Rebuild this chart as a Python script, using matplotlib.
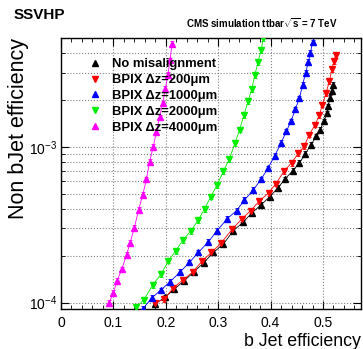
import numpy as np
import matplotlib
matplotlib.use("Agg")
import matplotlib.pyplot as plt
from matplotlib.ticker import LogLocator, MultipleLocator, NullFormatter
from matplotlib.lines import Line2D

plt.rcParams['font.family'] = ['Liberation Sans', 'DejaVu Sans']
plt.rcParams['mathtext.fontset'] = 'custom'
plt.rcParams['mathtext.rm'] = 'Liberation Sans'
plt.rcParams['mathtext.bf'] = 'Liberation Sans:bold'

# b-jet efficiency vs non-b mistag rate
eff_nomis = [0.18, 0.198, 0.216, 0.235, 0.254, 0.272, 0.291, 0.31, 0.329, 0.347, 0.364, 0.382, 0.398, 0.414,
             0.427, 0.442, 0.455, 0.466, 0.477, 0.487, 0.494, 0.502, 0.507, 0.51, 0.513, 0.517, 0.52]
mis_nomis = [9.8e-5, 1.08e-4, 1.22e-4, 1.38e-4, 1.58e-4, 1.8e-4, 2.1e-4, 2.38e-4, 2.9e-4, 3.27e-4, 3.76e-4,
             4.25e-4, 4.77e-4, 5.45e-4, 6.2e-4, 7e-4, 7.9e-4, 9e-4, 1.03e-3, 1.17e-3, 1.29e-3, 1.46e-3,
             1.64e-3, 1.82e-3, 2.07e-3, 2.28e-3, 2.5e-3]

eff_200 = [0.179, 0.197, 0.214, 0.233, 0.252, 0.27, 0.287, 0.305, 0.327, 0.345, 0.362, 0.378, 0.396, 0.41,
           0.426, 0.44, 0.453, 0.464, 0.474, 0.485, 0.493, 0.499, 0.506, 0.512, 0.517, 0.521, 0.524]
mis_200 = [1.0e-4, 1.05e-4, 1.24e-4, 1.4e-4, 1.58e-4, 1.86e-4, 2.1e-4, 2.4e-4, 2.97e-4, 3.44e-4, 3.9e-4,
           4.47e-4, 5.06e-4, 5.8e-4, 7e-4, 7.9e-4, 9.1e-4, 1.01e-3, 1.2e-3, 1.39e-3, 1.6e-3, 1.87e-3,
           2.22e-3, 2.64e-3, 3.14e-3, 3.56e-3, 3.9e-3]

eff_1000 = [0.156, 0.173, 0.19, 0.208, 0.227, 0.245, 0.262, 0.281, 0.298, 0.317, 0.335, 0.35, 0.367, 0.382,
            0.395, 0.408, 0.42, 0.43, 0.439, 0.447, 0.455, 0.461, 0.467, 0.472, 0.476, 0.48]
mis_1000 = [9.1e-5, 1.07e-4, 1.2e-4, 1.36e-4, 1.57e-4, 1.81e-4, 2.1e-4, 2.45e-4, 2.9e-4, 3.45e-4, 3.9e-4,
            4.55e-4, 5.3e-4, 6.2e-4, 7.3e-4, 8.8e-4, 1.06e-3, 1.26e-3, 1.46e-3, 1.74e-3, 2.05e-3, 2.5e-3,
            3.0e-3, 3.5e-3, 4.0e-3, 4.7e-3]

eff_2000 = [0.144, 0.158, 0.175, 0.191, 0.205, 0.219, 0.233, 0.248, 0.262, 0.274, 0.286, 0.298, 0.31, 0.321,
            0.332, 0.341, 0.349, 0.357, 0.364, 0.37, 0.376, 0.382, 0.386]
mis_2000 = [9.4e-5, 1.04e-4, 1.3e-4, 1.52e-4, 1.86e-4, 2.15e-4, 2.53e-4, 2.89e-4, 3.4e-4, 4.0e-4, 4.8e-4,
            5.7e-4, 7.0e-4, 8.3e-4, 1.06e-3, 1.29e-3, 1.6e-3, 1.96e-3, 2.35e-3, 2.9e-3, 3.5e-3, 4.2e-3, 5.0e-3]

eff_4000 = [0.092, 0.1, 0.107, 0.116, 0.125, 0.132, 0.14, 0.148, 0.156, 0.163, 0.169, 0.176, 0.182, 0.188,
            0.194, 0.199, 0.204, 0.208, 0.212]
mis_4000 = [1.0e-4, 1.16e-4, 1.38e-4, 1.64e-4, 2.02e-4, 2.43e-4, 3.03e-4, 3.93e-4, 4.93e-4, 6.2e-4, 8.0e-4,
            1.0e-3, 1.25e-3, 1.55e-3, 1.9e-3, 2.35e-3, 2.9e-3, 3.6e-3, 4.6e-3]

labels = ['No misalignment', 'BPIX Δz=200μm', 'BPIX Δz=1000μm', 'BPIX Δz=2000μm', 'BPIX Δz=4000μm']
rel_err = 0.04

series = [
    (eff_nomis, mis_nomis, 'black', '^'),
    (eff_200, mis_200, '#ff0000', 'v'),
    (eff_1000, mis_1000, '#0000ff', '^'),
    (eff_2000, mis_2000, '#00ee00', 'v'),
    (eff_4000, mis_4000, '#ff00ff', '^'),
]

fig = plt.figure(figsize=(3.63, 3.49), dpi=100)
ax = fig.add_axes([61/363, 40/349, 300/363, 271/349])

for x, y, c, m in series:
    y = np.array(y)
    ax.errorbar(x, y, yerr=y*rel_err, color=c, marker=m, markersize=5, lw=0.6,
                elinewidth=0.6, capsize=1.5, capthick=0.6, mec=c, zorder=3)

ax.set_yscale('log')
ax.set_xlim(0, 0.5725)
ax.set_ylim(9.1e-5, 5.0e-3)

ax.xaxis.set_major_locator(MultipleLocator(0.1))
ax.xaxis.set_minor_locator(MultipleLocator(0.02))
ax.yaxis.set_major_locator(LogLocator(base=10))
ax.yaxis.set_minor_locator(LogLocator(base=10, subs=np.arange(2, 10)))
ax.yaxis.set_minor_formatter(NullFormatter())
ax.set_xticks([0, 0.1, 0.2, 0.3, 0.4, 0.5])
ax.set_xticklabels(['0', '0.1', '0.2', '0.3', '0.4', '0.5'])

ax.tick_params(which='both', direction='in', top=True, right=True, labelsize=10, pad=5)
ax.tick_params(axis='y', pad=3)
ax.tick_params(which='major', length=6)
ax.tick_params(which='minor', length=3)

ax.grid(True, which='major', axis='x', ls=':', color='gray', lw=0.8)
ax.grid(True, which='both', axis='y', ls=':', color='gray', lw=0.8)

for s in ax.spines.values():
    s.set_linewidth(1.0)

ax.set_xlabel('b Jet efficiency', fontsize=12.8, loc='right', labelpad=2)
ax.set_ylabel('Non bJet efficiency', fontsize=15.5, loc='top', labelpad=0)

handles = [Line2D([], [], color=c, marker=m, ls='none', markersize=5) for _, _, c, m in series]
ax.legend(handles, labels, loc='upper left', bbox_to_anchor=(0.093, 0.925), frameon=False,
          borderaxespad=0, borderpad=0, handlelength=1.0, handletextpad=0.8, labelspacing=0.28,
          prop={'weight': 'bold', 'size': 9.4})

fig.text(14/363, 1 - 15/349, 'SSVHP', fontsize=11, fontweight='bold', va='center', ha='left')
fig.text(338/363, 1 - 23/349, r'CMS simulation ttbar$\sqrt{\mathbf{s}}$ = 7 TeV', fontsize=7,
         fontweight='bold', va='center', ha='right')

fig.savefig('out.png', dpi=100)
